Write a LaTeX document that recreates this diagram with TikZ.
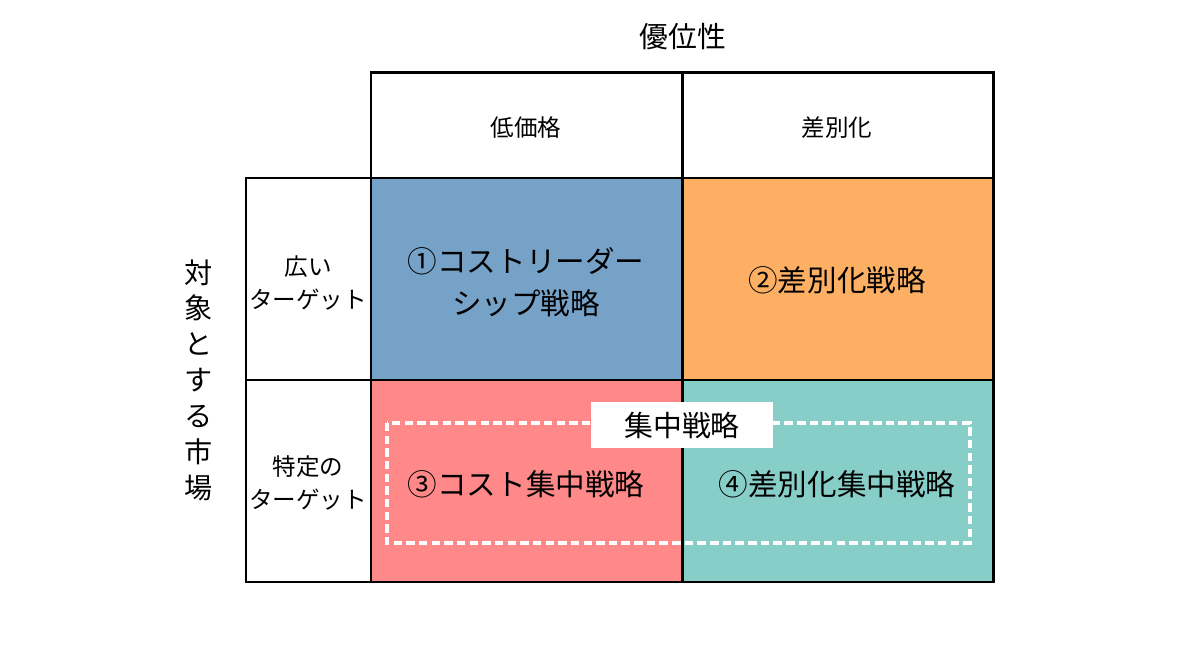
\documentclass[tikz,border=0pt]{standalone}
\usepackage{fontspec}
\setmainfont{Noto Sans CJK JP}
\definecolor{cblue}{RGB}{118,162,200}
\definecolor{corange}{RGB}{253,176,100}
\definecolor{cpink}{RGB}{255,136,136}
\definecolor{cteal}{RGB}{136,206,200}
\begin{document}
\begin{tikzpicture}[x=0.01cm,y=-0.01cm,
  cell/.style={draw=black,line width=0.85pt},
  big/.style={font=\fontsize{8.4}{11}\selectfont,align=center},
  small/.style={font=\fontsize{6.7}{9.5}\selectfont,align=center},
  dashbox/.style={draw=white,line width=0.9pt,dash pattern=on 2.4pt off 1.2pt}]
\useasboundingbox (0,0) rectangle (1200,661);
% colored cells
\fill[cblue] (371,178) rectangle (682,380);
\fill[corange] (682,178) rectangle (993,380);
\fill[cpink] (371,380) rectangle (682,582);
\fill[cteal] (682,380) rectangle (993,582);
% grid
\draw[cell] (371,73) rectangle (682,178);
\draw[cell] (682,73) rectangle (993,178);
\draw[cell] (246,178) rectangle (371,380);
\draw[cell] (246,380) rectangle (371,582);
\draw[cell] (371,178) rectangle (682,380);
\draw[cell] (682,178) rectangle (993,380);
\draw[cell] (371,380) rectangle (682,582);
\draw[cell] (682,380) rectangle (993,582);
% dashed focus box
\draw[dashbox] (387,423) rectangle (970,543);
\node[fill=white,minimum width=1.82cm,minimum height=0.45cm,inner sep=0pt,
  font=\fontsize{8.2}{10}\selectfont] (focus) at (682,425) {集中戦略};
% headings
\node[font=\fontsize{8.2}{10}\selectfont] (top) at (683,37) {優位性};
\node[font=\fontsize{8}{10.2}\selectfont,align=center] (side) at (199,380)
  {対\\象\\と\\す\\る\\市\\場};
\node[small] (h1) at (526,128) {低価格};
\node[small] (h2) at (837,128) {差別化};
\node[small] (r1) at (308,283) {広い\\ターゲット};
\node[small] (r2) at (308,483) {特定の\\ターゲット};
% cell texts
\node[big,font=\fontsize{8.4}{12}\selectfont] (c1) at (526,282) {①コストリーダー\\シップ戦略};
\node[big] (c2) at (837,280) {②差別化戦略};
\node[big] (c3) at (526,484) {③コスト集中戦略};
\node[big] (c4) at (837,484) {④差別化集中戦略};
\end{tikzpicture}
\end{document}
